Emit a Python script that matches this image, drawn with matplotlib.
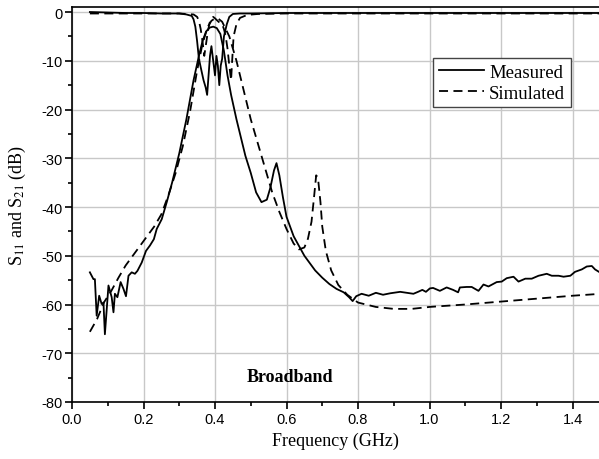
import matplotlib
matplotlib.use("Agg")
import matplotlib.pyplot as plt
from matplotlib.ticker import MultipleLocator

plt.rcParams['mathtext.fontset'] = 'stix'

# ---- data ----
meas_s21_f = [0.050, 0.060, 0.064, 0.069, 0.076, 0.083, 0.088, 0.092, 0.102, 0.111,
              0.116, 0.120, 0.127, 0.136, 0.144, 0.151, 0.158, 0.167, 0.176, 0.183,
              0.195, 0.207, 0.218, 0.229, 0.237, 0.251, 0.265, 0.280, 0.300, 0.320,
              0.340, 0.355, 0.365, 0.375, 0.385, 0.395, 0.405, 0.415, 0.425, 0.435,
              0.445, 0.460, 0.470, 0.485, 0.500, 0.515, 0.530, 0.545, 0.555, 0.565,
              0.572, 0.580, 0.590, 0.600, 0.620, 0.650, 0.680, 0.700, 0.720, 0.740,
              0.760, 0.775, 0.785, 0.795, 0.810, 0.830, 0.850, 0.870, 0.890, 0.918,
              0.955, 0.968, 0.980, 0.990, 1.001, 1.010, 1.029, 1.048, 1.066, 1.080,
              1.085, 1.104, 1.118, 1.137, 1.151, 1.165, 1.188, 1.202, 1.216, 1.235,
              1.249, 1.268, 1.286, 1.305, 1.328, 1.342, 1.361, 1.375, 1.394, 1.407,
              1.426, 1.440, 1.454, 1.463, 1.474]
meas_s21_db = [-53.4, -54.8, -54.8, -62.3, -58.2, -59.9, -59.6, -66.1, -56.1, -58.5,
               -61.6, -57.8, -58.5, -55.4, -56.8, -58.3, -54.1, -53.4, -53.7, -53.1,
               -51.4, -49.0, -47.9, -46.6, -44.5, -42.5, -39.0, -35.0, -29.0, -22.0,
               -14.0, -9.0, -6.0, -4.0, -3.2, -3.0, -3.3, -4.5, -8.0, -13.0,
               -17.0, -22.0, -25.0, -29.5, -33.0, -37.0, -39.0, -38.5, -36.0, -32.5,
               -31.0, -33.5, -38.0, -42.0, -46.0, -50.0, -53.0, -54.5, -55.8, -56.8,
               -57.5, -58.5, -59.3, -58.3, -57.8, -58.2, -57.6, -58.0, -57.7, -57.4,
               -57.8, -57.4, -57.0, -57.4, -56.7, -56.6, -57.2, -56.5, -57.0, -57.5,
               -56.5, -56.4, -56.4, -57.2, -55.9, -56.3, -55.4, -55.3, -54.6, -54.3,
               -55.3, -54.7, -54.7, -54.1, -53.7, -54.1, -54.1, -54.3, -54.1, -53.3,
               -52.8, -52.2, -52.1, -52.8, -53.3]

sim_s21_f = [0.05, 0.07, 0.09, 0.11, 0.13, 0.15, 0.17, 0.19, 0.21, 0.23,
             0.25, 0.27, 0.29, 0.31, 0.33, 0.35, 0.365, 0.38, 0.39, 0.40,
             0.41, 0.42, 0.44, 0.46, 0.48, 0.50, 0.52, 0.54, 0.56, 0.58,
             0.60, 0.62, 0.635, 0.65, 0.66, 0.67, 0.677, 0.683, 0.688, 0.695,
             0.70, 0.71, 0.725, 0.745, 0.77, 0.80, 0.85, 0.90, 0.95, 1.00,
             1.10, 1.20, 1.30, 1.40, 1.48]
sim_s21_db = [-65.6, -63.0, -59.5, -57.2, -54.5, -52.0, -50.0, -48.0, -46.0, -44.0,
              -41.5, -37.5, -33.0, -27.5, -20.5, -12.0, -6.5, -3.0, -1.8, -1.3,
              -1.4, -2.0, -5.0, -10.0, -16.0, -22.0, -27.0, -32.0, -37.0, -41.0,
              -44.5, -47.5, -48.7, -48.3, -46.5, -43.0, -38.0, -33.5, -34.0, -39.0,
              -44.0, -49.0, -53.0, -56.0, -58.0, -59.6, -60.5, -60.9, -60.9, -60.5,
              -60.0, -59.4, -58.8, -58.2, -57.8]

meas_s11_f = [0.05, 0.10, 0.15, 0.20, 0.25, 0.30, 0.32, 0.335, 0.34, 0.345,
              0.35, 0.355, 0.362, 0.368, 0.374, 0.378, 0.382, 0.386, 0.390, 0.395,
              0.400, 0.404, 0.408, 0.412, 0.416, 0.420, 0.425, 0.433, 0.440, 0.450,
              0.470, 0.50, 0.60, 0.70, 0.80, 0.90, 1.00, 1.10, 1.20, 1.30,
              1.40, 1.48]
meas_s11_db = [0.0, -0.1, -0.2, -0.2, -0.3, -0.3, -0.5, -0.8, -1.5, -3.0,
               -6.0, -9.6, -12.0, -14.0, -15.5, -17.0, -13.0, -9.0, -7.0, -10.0,
               -13.0, -9.0, -11.0, -15.0, -11.0, -9.6, -5.0, -2.5, -1.0, -0.4,
               -0.3, -0.3, -0.2, -0.2, -0.2, -0.2, -0.2, -0.2, -0.2, -0.2,
               -0.2, -0.2]

sim_s11_f = [0.05, 0.10, 0.20, 0.30, 0.34, 0.35, 0.355, 0.36, 0.365, 0.37,
             0.374, 0.38, 0.385, 0.39, 0.395, 0.40, 0.41, 0.42, 0.425, 0.43,
             0.435, 0.44, 0.445, 0.448, 0.452, 0.46, 0.47, 0.49, 0.52, 0.60,
             0.80, 1.00, 1.20, 1.48]
sim_s11_db = [-0.3, -0.3, -0.3, -0.3, -0.5, -1.0, -1.8, -3.5, -6.0, -9.0,
              -7.0, -4.0, -2.2, -1.3, -1.0, -1.3, -2.0, -2.5, -3.5, -5.0,
              -7.5, -11.0, -14.0, -10.0, -5.0, -2.5, -1.2, -0.6, -0.4, -0.3,
              -0.3, -0.3, -0.3, -0.3]

x_ticks = [0.0, 0.2, 0.4, 0.6, 0.8, 1.0, 1.2, 1.4]
y_ticks = [0, -10, -20, -30, -40, -50, -60, -70, -80]

# ---- figure ----
W, H = 599, 460
fig = plt.figure(figsize=(W / 100, H / 100), dpi=100)
ax = fig.add_axes([72 / W, 57 / H, (W - 72) / W, 395 / H])

lw = 1.3
dash = (0, (5, 3))
ax.plot(meas_s21_f, meas_s21_db, color='black', lw=lw, label='Measured')
ax.plot(sim_s21_f, sim_s21_db, color='black', lw=lw, linestyle=dash, label='Simulated')
ax.plot(meas_s11_f, meas_s11_db, color='black', lw=lw)
ax.plot(sim_s11_f, sim_s11_db, color='black', lw=lw, linestyle=dash)

ax.set_xlim(0, (W - 72) / 357.5)
ax.set_ylim(-80, 1.03)

ax.set_xticks(x_ticks)
ax.set_xticklabels([f"{v:.1f}" for v in x_ticks])
ax.set_yticks(y_ticks)
ax.set_yticklabels([str(v) for v in y_ticks])
ax.xaxis.set_minor_locator(MultipleLocator(0.1))
ax.yaxis.set_minor_locator(MultipleLocator(5))
ax.tick_params(which='both', direction='out', top=False, right=False, width=1.2)
ax.tick_params(which='major', length=5, labelsize=10.5, pad=2)
ax.tick_params(which='minor', length=3)
for lab in ax.get_xticklabels() + ax.get_yticklabels():
    lab.set_fontfamily('Liberation Sans')

ax.grid(True, which='major', color='#c8c8c8', lw=1.0)
ax.set_axisbelow(True)

ax.spines['right'].set_visible(False)
for s in ['left', 'bottom', 'top']:
    ax.spines[s].set_linewidth(1.2)

ax.set_xlabel('Frequency (GHz)', fontfamily='Liberation Serif', fontsize=13)
ax.set_ylabel('S$_{11}$ and S$_{21}$ (dB)', fontfamily='Liberation Serif', fontsize=13)
ax.xaxis.set_label_coords(0.5, -0.075)
ax.yaxis.set_label_coords(-0.083, 0.5)

ax.text(0.61, -74.8, 'Broadband', fontfamily='Liberation Serif', fontweight='bold',
        fontsize=13, ha='center', va='center')

leg = ax.legend(loc='upper left', bbox_to_anchor=(433 / W, 1 - 59 / H),
                bbox_transform=fig.transFigure, prop={'family': 'Liberation Serif', 'size': 13.5},
                frameon=True, fancybox=False, framealpha=1, edgecolor='#444444',
                handlelength=2.4, handletextpad=0.3, borderpad=0.3, labelspacing=0.2,
                borderaxespad=0)
leg.get_frame().set_linewidth(1.0)

fig.savefig('out.png', dpi=100)
